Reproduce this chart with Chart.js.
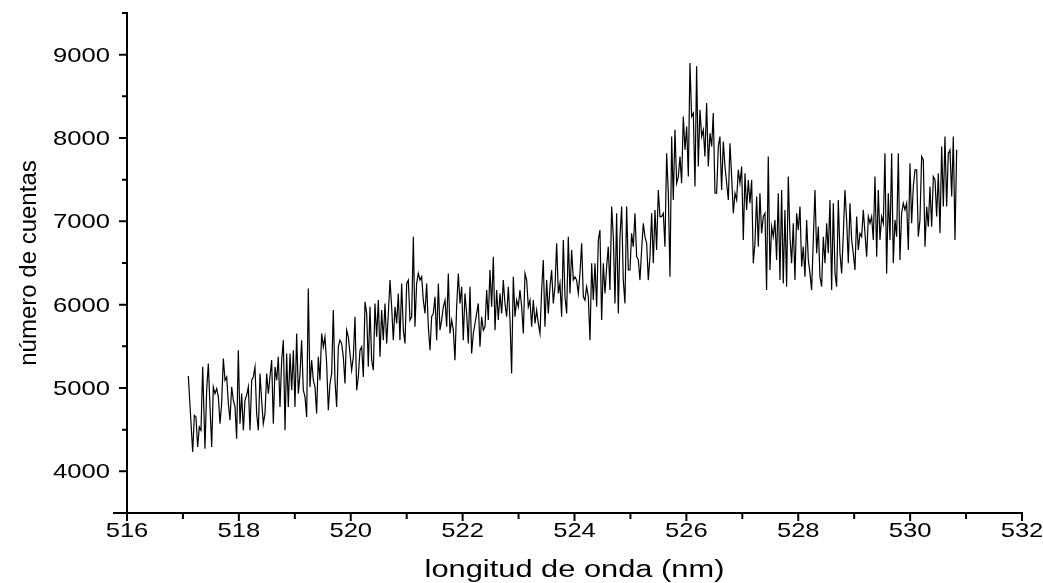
<!DOCTYPE html>
<html>
<head>
<meta charset="utf-8">
<script src="https://cdn.jsdelivr.net/npm/chart.js@4"></script>
<style>
html, body { margin: 0; padding: 0; background: #fff; }
#wrap { width: 1043px; height: 583px; }
</style>
</head>
<body>
<div id="wrap"><canvas id="c"></canvas></div>
<script>
// wavelength (nm) and counts
const wavelengths = [
  517.096, 517.174, 517.204, 517.233, 517.263, 517.293, 517.323, 517.353, 517.394, 517.424, 517.454, 517.484, 517.514, 517.543, 517.573,
  517.603, 517.633, 517.663, 517.692, 517.722, 517.752, 517.782, 517.812, 517.841, 517.871, 517.901, 517.931, 517.960, 517.990,
  518.020, 518.050, 518.080, 518.109, 518.139, 518.169, 518.199, 518.229, 518.258, 518.288, 518.318, 518.348, 518.378, 518.407, 518.437,
  518.467, 518.497, 518.527, 518.556, 518.586, 518.616, 518.646, 518.676, 518.705, 518.735, 518.765, 518.795, 518.825, 518.854, 518.884,
  518.914, 518.944, 518.974, 519.003, 519.033, 519.063, 519.093, 519.122, 519.152, 519.182, 519.212, 519.241, 519.271, 519.301, 519.331,
  519.361, 519.390, 519.420,
  519.450, 519.480, 519.510, 519.539, 519.569, 519.599, 519.629, 519.659, 519.688, 519.718, 519.748, 519.778, 519.807, 519.837, 519.867,
  519.897, 519.927, 519.957, 519.986, 520.016, 520.046, 520.076, 520.106, 520.135, 520.165, 520.195, 520.225, 520.255, 520.285, 520.314,
  520.344, 520.374, 520.404, 520.433, 520.463, 520.493, 520.523, 520.552, 520.582, 520.612, 520.642, 520.672, 520.702, 520.731, 520.761,
  520.791, 520.821, 520.850,
  520.880, 520.910, 520.940, 520.970, 521.000, 521.029, 521.059, 521.089, 521.119, 521.148, 521.178, 521.208, 521.238, 521.268, 521.297,
  521.327, 521.357, 521.387, 521.417, 521.446, 521.476, 521.506, 521.536, 521.566, 521.595, 521.625, 521.655, 521.685, 521.715, 521.744,
  521.774, 521.804, 521.834, 521.863, 521.893, 521.923, 521.953, 521.983, 522.012, 522.042, 522.072, 522.102, 522.132, 522.161, 522.191,
  522.221, 522.251, 522.280,
  522.310, 522.340, 522.370, 522.400, 522.430, 522.459, 522.489, 522.519, 522.549, 522.579, 522.608, 522.638, 522.668, 522.698, 522.727,
  522.757, 522.787, 522.817, 522.847, 522.876, 522.906, 522.936, 522.966, 522.996, 523.025, 523.055, 523.085, 523.115, 523.145, 523.174,
  523.204, 523.234, 523.264, 523.294, 523.323, 523.353, 523.383, 523.413, 523.442, 523.472, 523.502, 523.532, 523.562, 523.591, 523.621,
  523.651, 523.681, 523.711,
  523.740, 523.770, 523.800, 523.830, 523.860, 523.889, 523.919, 523.949, 523.979, 524.009, 524.038, 524.068, 524.098, 524.128, 524.158,
  524.187, 524.217, 524.247, 524.277, 524.307, 524.336, 524.366, 524.396, 524.426, 524.455, 524.485, 524.515, 524.545, 524.575, 524.604,
  524.634, 524.664, 524.694, 524.724, 524.753, 524.783, 524.813, 524.843, 524.872, 524.902, 524.932, 524.962, 524.992, 525.021, 525.051,
  525.081, 525.111, 525.141,
  525.170, 525.200, 525.230, 525.260, 525.290, 525.319, 525.349, 525.379, 525.409, 525.439, 525.468, 525.498, 525.528, 525.558, 525.588,
  525.617, 525.647, 525.677, 525.707, 525.737, 525.766, 525.796, 525.826, 525.856, 525.886, 525.915, 525.945, 525.975, 526.005, 526.035,
  526.064, 526.094, 526.124, 526.154, 526.183, 526.213, 526.243, 526.273, 526.303, 526.332, 526.362, 526.392, 526.422, 526.452, 526.481,
  526.511, 526.541, 526.571,
  526.600, 526.630, 526.660, 526.690, 526.720, 526.750, 526.779, 526.809, 526.839, 526.869, 526.899, 526.928, 526.958, 526.988, 527.018,
  527.048, 527.077, 527.107, 527.137, 527.167, 527.196, 527.226, 527.256, 527.286, 527.315, 527.345, 527.375, 527.405, 527.434, 527.464,
  527.494, 527.524, 527.554, 527.583, 527.613, 527.643, 527.673, 527.703, 527.732, 527.762, 527.792, 527.822, 527.852, 527.881, 527.911,
  527.941, 527.971, 528.001,
  528.031, 528.061, 528.090, 528.120, 528.150, 528.180, 528.210, 528.239, 528.269, 528.299, 528.329, 528.359, 528.388, 528.418, 528.448,
  528.478, 528.508, 528.537, 528.567, 528.597, 528.627, 528.657, 528.686, 528.716, 528.746, 528.776, 528.806, 528.835, 528.865, 528.895,
  528.925, 528.955, 528.984, 529.014, 529.044, 529.074, 529.104, 529.133, 529.163, 529.193, 529.223, 529.253, 529.282, 529.312, 529.342,
  529.372, 529.402, 529.431,
  529.461, 529.491, 529.521, 529.550, 529.580, 529.610, 529.640, 529.670, 529.699, 529.729, 529.759, 529.789, 529.818, 529.848, 529.878,
  529.908, 529.938, 529.968, 529.997, 530.027, 530.057, 530.087, 530.117, 530.146, 530.176, 530.206, 530.236, 530.266, 530.296, 530.325,
  530.355, 530.385, 530.415, 530.445, 530.474, 530.504, 530.534, 530.564, 530.594, 530.623, 530.653, 530.683, 530.713, 530.743, 530.772,
  530.802, 530.832
];
const counts = [
  5145, 4232, 4672, 4653, 4292, 4532, 4492, 5254, 4272, 4973, 5294, 4773, 4292, 5013, 4933,
  4993, 4893, 4572, 4813, 5354, 5093, 5133, 4813, 4613, 5013, 4853, 4773, 4392, 5454,
  4572, 4933, 4492, 4853, 4913, 5013, 4492, 5093, 5133, 5253, 4693, 4492, 5173, 4853, 4572,
  4693, 5173, 4933, 5133, 5334, 4572, 5253, 5093, 5374, 4773, 5334, 5574, 4492, 5414, 4773,
  5414, 4973, 5454, 4773, 5654, 4933, 5173, 5574, 4973, 4893, 4653, 6195, 5013, 5334, 5093,
  5013, 4693, 5374,
  5093, 5654, 5494, 5614, 5294, 4733, 5053, 5173, 5935, 5093, 4773, 5494, 5574, 5534, 5374,
  5053, 5694, 5614, 5414, 5213, 5374, 5855, 4973, 5133, 5454, 5494, 5133, 6035, 5895, 5254,
  5975, 5334, 5213, 6015, 5614, 6055, 5374, 5935, 5574, 6015, 5534, 5895, 6295, 5975, 5574,
  5975, 5774, 6135,
  5574, 6255, 5694, 5534, 6255, 6295, 5815, 5855, 6816, 5734, 6255, 6375, 6295, 6335, 6055,
  5895, 6255, 5734, 5454, 5855, 5895, 6095, 5574, 6255, 5694, 5815, 5975, 6055, 5734, 6375,
  5654, 5815, 5694, 5334, 5975, 6375, 6015, 6215, 5574, 6135, 5895, 5534, 6215, 5414, 5654,
  5774, 5895, 6015,
  5494, 5855, 5694, 5734, 6175, 5815, 6415, 5975, 6576, 5694, 6175, 5815, 6135, 5895, 6295,
  6015, 5855, 6215, 5815, 5173, 6335, 5855, 6055, 5975, 6175, 5975, 5654, 6375, 6295, 5975,
  6055, 5734, 6055, 5774, 5935, 5774, 5654, 6175, 6536, 5734, 6295, 5895, 6215, 6415, 6015,
  6215, 6736, 6135,
  6255, 5855, 6776, 6095, 5895, 6816, 6135, 6656, 6295, 6335, 6295, 6135, 6375, 6736, 6095,
  6055, 6215, 6095, 5574, 6496, 6055, 6496, 5975, 6776, 6896, 5815, 6496, 6135, 6455, 6696,
  6175, 7177, 6816, 6015, 7097, 5895, 6816, 7177, 6295, 6015, 7177, 6416, 6416, 6856, 6696,
  7097, 6576, 6536,
  6295, 6656, 6976, 6816, 6736, 6295, 6576, 7097, 6496, 7137, 6656, 7377, 7057, 7057, 7097,
  6696, 7818, 7337, 6335, 8018, 7257, 8098, 7457, 7537, 7778, 7457, 8259, 7858, 8138, 7537,
  8900, 8259, 8299, 7417, 8860, 7658, 8339, 8018, 8098, 7778, 8419, 7658, 8058, 7898, 8299,
  7337, 7337, 7898,
  8018, 7377, 7958, 7658, 7457, 7257, 7938, 7537, 7097, 7337, 7257, 7618, 7457, 7658, 6776,
  7578, 7137, 7497, 7217, 7497, 6496, 6736, 7297, 6696, 7337, 6856, 7057, 7097, 6175, 7778,
  6416, 6936, 6816, 7017, 6536, 7337, 6295, 7377, 6255, 7137, 6215, 7537, 6816, 6496, 6976,
  6295, 7097, 6896,
  7177, 6456, 6696, 6335, 7017, 6536, 6375, 6175, 6776, 7377, 6616, 6937, 6335, 6215, 6816,
  6496, 6977, 6616, 7257, 6175, 7217, 6375, 6215, 7257, 6616, 6375, 6856, 7377, 7017, 6496,
  7217, 6776, 6616, 6416, 7057, 6656, 6856, 6816, 7137, 6856, 6576, 7057, 6977, 7057, 6776,
  7538, 6576, 7377,
  6776, 7057, 6976, 7818, 6375, 7337, 6776, 7818, 6496, 7017, 6816, 7818, 6536, 7097, 7217,
  7137, 7217, 6656, 7698, 6976, 7417, 7618, 7618, 6816, 7017, 7778, 7738, 6696, 7177, 6936,
  7417, 6936, 7538, 7498, 7057, 7578, 6856, 7898, 7177, 8018, 7177, 7818, 7858, 7297, 8018,
  6776, 7858
];
const xTicks = [516, 518, 520, 522, 524, 526, 528, 530, 532];
const yTicks = [4000, 5000, 6000, 7000, 8000, 9000];
const xTitle = 'longitud de onda (nm)';
const yTitle = 'número de cuentas';

const FONT = '"Liberation Sans", Arial, sans-serif';

function wideText(ctx, txt, x, y, sx, align) {
  ctx.save();
  ctx.translate(x, y);
  ctx.scale(sx, 1);
  ctx.textAlign = align;
  ctx.fillText(txt, 0, 0);
  ctx.restore();
}

// axes drawn like the Origin plot: L-shaped frame, outward ticks, minor ticks
const originAxes = {
  id: 'originAxes',
  afterDraw(chart) {
    const ctx = chart.ctx;
    const xs = chart.scales.x, ys = chart.scales.y;
    const x0 = xs.getPixelForValue(xs.min), x1 = xs.getPixelForValue(xs.max);
    const y0 = ys.getPixelForValue(ys.min), y1 = ys.getPixelForValue(ys.max);
    ctx.save();
    ctx.strokeStyle = '#000';
    ctx.lineWidth = 2;
    ctx.beginPath();
    ctx.moveTo(x0, y1 - 1); ctx.lineTo(x0, y0 + 1);
    ctx.moveTo(x0 - 14, y0); ctx.lineTo(x1 + 1, y0);
    xs.ticks.forEach(t => {
      const p = xs.getPixelForValue(t.value);
      const len = xTicks.includes(t.value) ? 8 : 6;
      ctx.moveTo(p, y0); ctx.lineTo(p, y0 + len);
    });
    ys.ticks.forEach(t => {
      const p = ys.getPixelForValue(t.value);
      const len = yTicks.includes(t.value) ? 8 : 5;
      ctx.moveTo(x0, p); ctx.lineTo(x0 - len, p);
    });
    ctx.stroke();

    ctx.fillStyle = '#000';
    ctx.textBaseline = 'alphabetic';
    ctx.font = '21px ' + FONT;
    xTicks.forEach(v => wideText(ctx, String(v), xs.getPixelForValue(v), 537, 1.22, 'center'));
    yTicks.forEach(v => wideText(ctx, String(v), 110, ys.getPixelForValue(v) + 7, 1.22, 'right'));

    ctx.font = '23px ' + FONT;
    wideText(ctx, xTitle, (x0 + x1) / 2, 577, 1.34, 'center');

    ctx.font = '24px ' + FONT;
    ctx.translate(36, (y0 + y1) / 2);
    ctx.rotate(-Math.PI / 2);
    ctx.textAlign = 'center';
    ctx.fillText(yTitle, 0, 0);
    ctx.restore();
  }
};

new Chart(document.getElementById('c'), {
  type: 'line',
  data: {
    datasets: [{
      data: wavelengths.map((w, i) => ({ x: w, y: counts[i] })),
      borderColor: '#000',
      borderWidth: 1.2,
      pointRadius: 0,
      tension: 0,
      fill: false
    }]
  },
  options: {
    responsive: true,
    maintainAspectRatio: false,
    animation: false,
    layout: { padding: { left: 0, right: 21, top: 13, bottom: 0 } },
    plugins: { legend: { display: false }, tooltip: { enabled: false } },
    scales: {
      x: {
        type: 'linear', min: 516, max: 532,
        ticks: { display: false, stepSize: 1 },
        grid: { display: false }, border: { display: false },
        afterFit: s => { s.height = 70; }
      },
      y: {
        min: 3500, max: 9500,
        ticks: { display: false, stepSize: 500 },
        grid: { display: false }, border: { display: false },
        afterFit: s => { s.width = 127; }
      }
    }
  },
  plugins: [originAxes]
});
</script>
</body>
</html>
